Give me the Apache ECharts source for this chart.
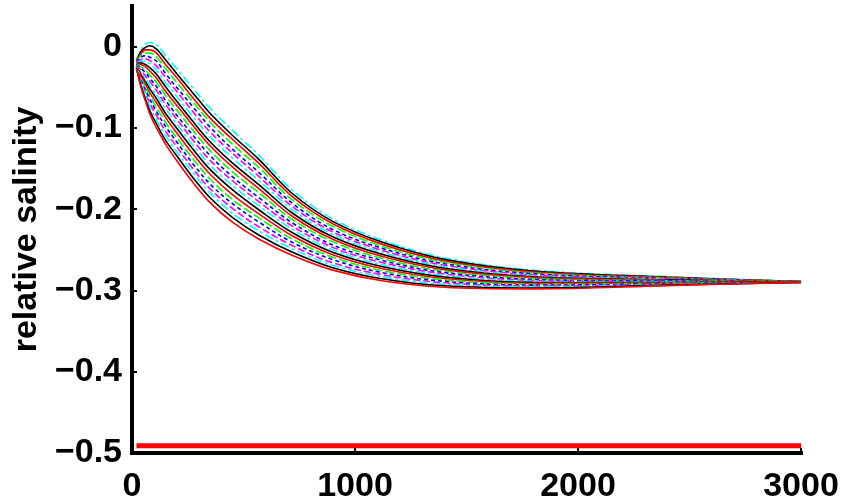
<!DOCTYPE html>
<html>
<head>
<meta charset="utf-8">
<script src="https://cdn.jsdelivr.net/npm/echarts@6/dist/echarts.min.js"></script>
<style>
  html, body { margin: 0; padding: 0; background: #ffffff; }
  #chart { width: 850px; height: 504px; }
</style>
</head>
<body>
<div id="chart"></div>
<script>
// ---- Data ----
const xValues = [20, 40, 60, 80, 110, 150, 200, 270, 350, 450, 570, 720, 900, 1120, 1400, 1800, 2400, 3000];

const curve00 = [-0.017, -0.004, 0.003, 0.005, 0.002, -0.011, -0.027, -0.050, -0.076, -0.103, -0.134, -0.177, -0.212, -0.238, -0.260, -0.275, -0.283, -0.289];
const curve01 = [-0.0175, -0.006, -0.001, 0.001, -0.003, -0.016, -0.033, -0.056, -0.082, -0.109, -0.139, -0.181, -0.215, -0.2405, -0.2618, -0.2762, -0.2836, -0.289];
const curve02 = [-0.018, -0.009, -0.004, -0.004, -0.008, -0.022, -0.038, -0.062, -0.088, -0.114, -0.144, -0.185, -0.218, -0.243, -0.2636, -0.2773, -0.2841, -0.289];
const curve03 = [-0.0185, -0.011, -0.008, -0.008, -0.013, -0.027, -0.044, -0.067, -0.093, -0.120, -0.149, -0.189, -0.221, -0.2455, -0.2654, -0.2785, -0.2847, -0.289];
const curve04 = [-0.019, -0.013, -0.011, -0.013, -0.018, -0.033, -0.050, -0.073, -0.099, -0.126, -0.155, -0.193, -0.225, -0.248, -0.2672, -0.2796, -0.2852, -0.289];
const curve05 = [-0.0195, -0.016, -0.015, -0.017, -0.024, -0.038, -0.055, -0.079, -0.105, -0.131, -0.160, -0.197, -0.228, -0.2505, -0.269, -0.2808, -0.2858, -0.289];
const curve06 = [-0.020, -0.018, -0.018, -0.021, -0.029, -0.044, -0.061, -0.085, -0.111, -0.137, -0.165, -0.201, -0.231, -0.253, -0.2708, -0.2819, -0.2863, -0.289];
const curve07 = [-0.0205, -0.020, -0.022, -0.026, -0.034, -0.049, -0.067, -0.091, -0.117, -0.143, -0.170, -0.205, -0.234, -0.2555, -0.2726, -0.2831, -0.2869, -0.289];
const curve08 = [-0.021, -0.022, -0.025, -0.030, -0.039, -0.055, -0.072, -0.096, -0.122, -0.148, -0.175, -0.209, -0.237, -0.258, -0.2744, -0.2842, -0.2874, -0.289];
const curve09 = [-0.0215, -0.025, -0.029, -0.035, -0.044, -0.060, -0.078, -0.102, -0.128, -0.154, -0.180, -0.213, -0.240, -0.2605, -0.2762, -0.2854, -0.288, -0.289];
const curve10 = [-0.022, -0.027, -0.032, -0.039, -0.049, -0.066, -0.084, -0.108, -0.134, -0.160, -0.186, -0.217, -0.244, -0.263, -0.278, -0.2865, -0.2885, -0.2895];
const curve11 = [-0.0225, -0.029, -0.036, -0.043, -0.054, -0.071, -0.089, -0.114, -0.140, -0.165, -0.191, -0.221, -0.247, -0.2655, -0.2798, -0.2877, -0.2891, -0.2895];
const curve12 = [-0.023, -0.032, -0.039, -0.048, -0.059, -0.076, -0.095, -0.120, -0.146, -0.171, -0.196, -0.225, -0.250, -0.268, -0.2816, -0.2888, -0.2896, -0.2895];
const curve13 = [-0.0235, -0.034, -0.043, -0.052, -0.064, -0.082, -0.100, -0.125, -0.151, -0.176, -0.201, -0.229, -0.253, -0.2705, -0.2834, -0.290, -0.2902, -0.2895];
const curve14 = [-0.024, -0.036, -0.046, -0.057, -0.069, -0.087, -0.106, -0.131, -0.157, -0.182, -0.206, -0.233, -0.256, -0.273, -0.2852, -0.2911, -0.2907, -0.2895];
const curve15 = [-0.0245, -0.039, -0.050, -0.061, -0.075, -0.093, -0.112, -0.137, -0.163, -0.188, -0.211, -0.237, -0.259, -0.2755, -0.287, -0.2923, -0.2913, -0.290];
const curve16 = [-0.025, -0.041, -0.053, -0.065, -0.080, -0.098, -0.117, -0.143, -0.169, -0.193, -0.216, -0.241, -0.262, -0.278, -0.2888, -0.2934, -0.2918, -0.290];
const curve17 = [-0.0255, -0.043, -0.057, -0.070, -0.085, -0.104, -0.123, -0.149, -0.175, -0.199, -0.222, -0.245, -0.266, -0.2805, -0.2906, -0.2946, -0.2924, -0.290];
const curve18 = [-0.026, -0.045, -0.060, -0.074, -0.090, -0.109, -0.129, -0.154, -0.180, -0.205, -0.227, -0.249, -0.269, -0.283, -0.2924, -0.2957, -0.2929, -0.290];
const curve19 = [-0.0265, -0.048, -0.064, -0.079, -0.095, -0.115, -0.134, -0.160, -0.186, -0.210, -0.232, -0.253, -0.272, -0.2855, -0.2942, -0.2969, -0.2935, -0.290];
const curve20 = [-0.027, -0.050, -0.067, -0.083, -0.100, -0.120, -0.140, -0.166, -0.192, -0.216, -0.237, -0.257, -0.275, -0.288, -0.296, -0.298, -0.294, -0.290];

const baselineX = [20, 3000];
const baselineY = [-0.491, -0.491];

const xTicks = [0, 1000, 2000, 3000];
const xTickLabels = ['0', '1000', '2000', '3000'];
const yTicks = [-0.5, -0.4, -0.3, -0.2, -0.1, 0];
const yTickLabels = ['\u22120.5', '\u22120.4', '\u22120.3', '\u22120.2', '\u22120.1', '0'];
const yAxisTitle = 'relative salinity';

// ---- Styling ----
const curves = [curve00, curve01, curve02, curve03, curve04, curve05, curve06, curve07, curve08, curve09, curve10,
                curve11, curve12, curve13, curve14, curve15, curve16, curve17, curve18, curve19, curve20];
const palette = ['#00ffff', '#000000', '#ff0000', '#00ff00', '#0000ff', '#ff00ff'];
const dashes = [[9, 3, 3, 3], 'solid', 'solid', [9, 3], [4, 3], [7, 3]];
const FONT = '"Liberation Sans", Arial, Helvetica, sans-serif';

function lookupLabel(ticks, labels, v) {
  for (let i = 0; i < ticks.length; i++) {
    if (Math.abs(ticks[i] - v) < 1e-6) return labels[i];
  }
  return '';
}

const series = curves.map(function (c, k) {
  return {
    type: 'line',
    data: xValues.map(function (x, i) { return [x, c[i]]; }),
    showSymbol: false,
    symbol: 'none',
    smooth: 0.35,
    lineStyle: { color: palette[k % 6], width: 1.6, type: dashes[k % 6] },
    z: 2
  };
});
series.push({
  type: 'line',
  data: baselineX.map(function (x, i) { return [x, baselineY[i]]; }),
  showSymbol: false,
  symbol: 'none',
  lineStyle: { color: '#ff0000', width: 5 },
  z: 3
});

const chart = echarts.init(document.getElementById('chart'), null, { renderer: 'canvas' });
chart.setOption({
  animation: false,
  backgroundColor: '#ffffff',
  grid: { left: 132, right: 49, top: 6, bottom: 50, containLabel: false },
  xAxis: {
    type: 'value',
    min: 0, max: 3000, interval: 1000,
    axisLine: { show: true, onZero: false, lineStyle: { color: '#000', width: 4, cap: 'square' } },
    axisTick: { show: true, inside: true, length: 5, lineStyle: { color: '#000', width: 2 }, customValues: xTicks },
    axisLabel: {
      customValues: xTicks,
      formatter: function (v) { return lookupLabel(xTicks, xTickLabels, v); },
      color: '#000', fontSize: 34, fontWeight: 'bold', fontFamily: FONT, margin: 17
    },
    splitLine: { show: false }
  },
  yAxis: {
    type: 'value',
    min: -0.5, max: 0.05,
    name: yAxisTitle,
    nameLocation: 'middle',
    nameGap: 82,
    nameTextStyle: { color: '#000', fontSize: 34, fontWeight: 'bold', fontFamily: FONT },
    axisLine: { show: true, onZero: false, lineStyle: { color: '#000', width: 4, cap: 'square' } },
    axisTick: { show: true, inside: true, length: 5, lineStyle: { color: '#000', width: 2 }, customValues: yTicks },
    axisLabel: {
      customValues: yTicks,
      formatter: function (v) { return lookupLabel(yTicks, yTickLabels, v); },
      color: '#000', fontSize: 34, fontWeight: 'bold', fontFamily: FONT, margin: 10
    },
    splitLine: { show: false }
  },
  series: series
});
</script>
</body>
</html>
